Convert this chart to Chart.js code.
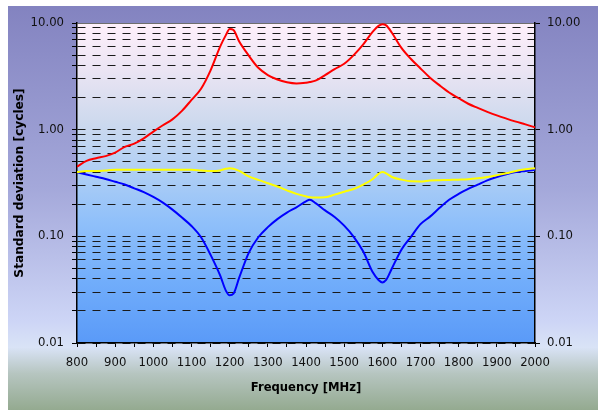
<!DOCTYPE html>
<html><head><meta charset="utf-8">
<script src="https://cdn.jsdelivr.net/npm/chart.js@4"></script>
<style>html,body{margin:0;padding:0;background:#fff}</style>
</head><body>
<canvas id="c" width="598" height="410"></canvas>
<script>
const freqs = [800,825,850,875,900,925,950,975,1000,1025,1050,1075,1100,1125,1150,1175,1190,1200,1210,1225,1250,1275,1300,1325,1350,1375,1400,1410,1425,1450,1475,1500,1525,1550,1575,1590,1600,1610,1625,1650,1675,1700,1725,1750,1775,1800,1825,1850,1875,1900,1925,1950,1975,2000];
const redSeries = [0.45,0.51,0.54,0.565,0.61,0.69,0.74,0.83,0.96,1.10,1.25,1.50,1.90,2.42,3.6,6.0,7.7,8.8,8.6,6.7,4.95,3.8,3.25,2.95,2.78,2.71,2.76,2.8,2.88,3.25,3.7,4.15,5.0,6.3,8.3,9.4,9.75,9.5,8.1,5.85,4.6,3.75,3.07,2.6,2.23,1.97,1.75,1.6,1.47,1.36,1.27,1.19,1.12,1.05];
const yellowSeries = [0.40,0.41,0.41,0.415,0.42,0.42,0.42,0.42,0.42,0.42,0.42,0.42,0.42,0.415,0.41,0.415,0.43,0.435,0.43,0.41,0.365,0.338,0.315,0.293,0.27,0.25,0.237,0.233,0.231,0.233,0.246,0.262,0.278,0.305,0.345,0.385,0.40,0.39,0.36,0.34,0.328,0.327,0.334,0.336,0.338,0.34,0.343,0.35,0.36,0.374,0.39,0.41,0.425,0.435];
const blueSeries = [0.40,0.38,0.362,0.345,0.325,0.306,0.282,0.26,0.234,0.207,0.178,0.15,0.125,0.098,0.067,0.043,0.031,0.028,0.029,0.041,0.07,0.098,0.122,0.145,0.167,0.187,0.213,0.22,0.205,0.175,0.152,0.126,0.099,0.072,0.046,0.039,0.037,0.039,0.05,0.075,0.099,0.13,0.153,0.185,0.22,0.25,0.278,0.305,0.335,0.36,0.382,0.40,0.41,0.42];

const yDecades = [0.01, 0.1, 1, 10];
const yDecadeLabels = ['0.01', '0.10', '1.00', '10.00'];
const yMultipliers = [1,2,3,4,5,6,7,8,9];
const xMin = 800, xMax = 2000, xTickStep = 50, xLabelStep = 100;

const yGridValues = [];
for (let d = 0; d < yDecades.length - 1; d++) {
  for (const m of yMultipliers) yGridValues.push(+(yDecades[d] * m).toPrecision(6));
}
yGridValues.push(yDecades[yDecades.length - 1]);

function decadeIndex(v) {
  for (let i = 0; i < yDecades.length; i++) {
    if (Math.abs(v - yDecades[i]) < yDecades[i] * 1e-6) return i;
  }
  return -1;
}

const pts = arr => freqs.map((f, i) => ({x: f, y: arr[i]}));

const bgPlugin = {
  id: 'bgPlugin',
  beforeDraw(chart) {
    const {ctx, chartArea: a} = chart;
    ctx.save();
    ctx.fillStyle = '#ffffff';
    ctx.fillRect(0, 0, chart.width, chart.height);
    let g = ctx.createLinearGradient(0, 6, 0, 410);
    g.addColorStop(0, '#8383c0');
    g.addColorStop(0.45, '#a4a8da');
    g.addColorStop(0.78, '#cdd5f6');
    g.addColorStop(0.845, '#d9e3f6');
    g.addColorStop(0.91, '#b6c5c0');
    g.addColorStop(1, '#94aa90');
    ctx.fillStyle = g;
    ctx.fillRect(8, 6, 590, 404);
    g = ctx.createLinearGradient(0, a.top, 0, a.bottom);
    g.addColorStop(0, '#fff0fb');
    g.addColorStop(0.15, '#eae4f3');
    g.addColorStop(0.3, '#cfdaee');
    g.addColorStop(0.45, '#b2d0f4');
    g.addColorStop(0.62, '#90c0fa');
    g.addColorStop(0.8, '#72aefb');
    g.addColorStop(1, '#5a9af8');
    ctx.fillStyle = g;
    ctx.fillRect(a.left, a.top, a.right - a.left, a.bottom - a.top);
    ctx.restore();
  }
};

Chart.defaults.font.family = "'DejaVu Sans', sans-serif";

new Chart(document.getElementById('c'), {
  type: 'line',
  data: {
    datasets: [
      {data: pts(redSeries), borderColor: '#ff0000', borderWidth: 2, pointRadius: 0, cubicInterpolationMode: 'monotone', fill: false},
      {data: pts(yellowSeries), borderColor: '#ffff00', borderWidth: 2, pointRadius: 0, cubicInterpolationMode: 'monotone', fill: false},
      {data: pts(blueSeries), borderColor: '#0000ff', borderWidth: 2, pointRadius: 0, cubicInterpolationMode: 'monotone', fill: false}
    ]
  },
  options: {
    responsive: false,
    animation: false,
    devicePixelRatio: 1,
    layout: {padding: {top: 23, left: 0, right: 0, bottom: 0}},
    plugins: {legend: {display: false}, tooltip: {enabled: false}},
    scales: {
      x: {
        type: 'linear', position: 'bottom', min: xMin, max: xMax,
        afterFit: s => { s.height = 67; },
        ticks: {
          stepSize: xTickStep, autoSkip: false, maxRotation: 0, padding: 9,
          color: '#111', font: {size: 11.7},
          callback: v => (v % xLabelStep === 0 ? String(v) : '')
        },
        grid: {drawOnChartArea: false, drawTicks: true, tickLength: 4, tickColor: '#000', tickWidth: 1},
        border: {color: '#000', width: 1.5},
        title: {display: true, text: 'Frequency [MHz]', color: '#000', font: {size: 11.6, weight: 'bold'}, padding: {top: 0, bottom: 15}}
      },
      y: {
        type: 'logarithmic', position: 'left', min: 0.01, max: 10,
        afterFit: s => { s.width = 77; },
        afterBuildTicks: s => { s.ticks = yGridValues.map(v => ({value: v})); },
        ticks: {
          autoSkip: false, padding: 8, color: '#111', font: {size: 11.7},
          callback: v => { const i = decadeIndex(v); return i >= 0 ? yDecadeLabels[i] : ''; }
        },
        grid: {
          drawOnChartArea: true, drawTicks: true, tickLength: 5, tickColor: '#000', tickWidth: 1,
          tickBorderDash: [], lineWidth: 1,
          color: c => (c.tick && c.tick.value >= 10 ? '#6e6e6e' : '#1a1a1a')
        },
        border: {color: '#000', width: 1.5, dash: c => (c.tick && c.tick.value < 10 ? [8, 7] : [])},
        title: {display: true, text: 'Standard deviation [cycles]', color: '#000', font: {size: 12.2, weight: 'bold'}, padding: {top: 13, bottom: 0}}
      },
      y2: {
        type: 'logarithmic', position: 'right', min: 0.01, max: 10,
        afterFit: s => { s.width = 63; },
        afterBuildTicks: s => { s.ticks = yDecades.map(v => ({value: v})); },
        ticks: {
          autoSkip: false, padding: 7, color: '#111', font: {size: 11.7},
          callback: v => { const i = decadeIndex(v); return i >= 0 ? yDecadeLabels[i] : ''; }
        },
        grid: {drawOnChartArea: false, drawTicks: true, tickLength: 5, tickColor: '#000', tickWidth: 1},
        border: {color: '#000', width: 1.5}
      }
    }
  },
  plugins: [bgPlugin]
});
</script>
</body></html>
